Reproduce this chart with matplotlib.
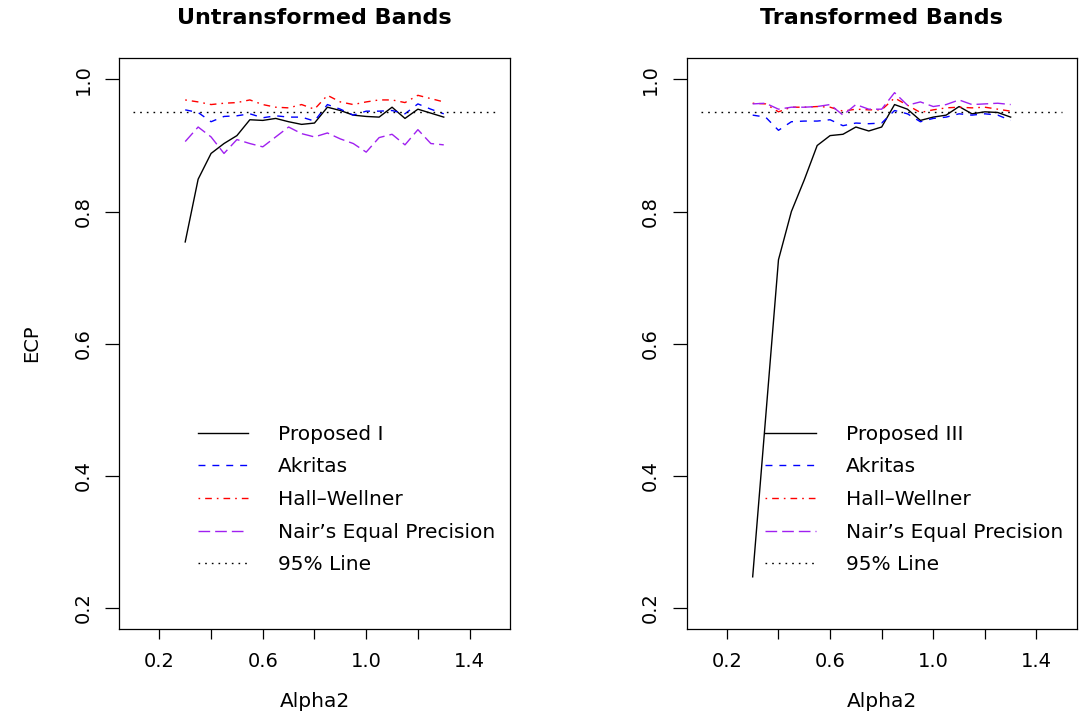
import matplotlib
matplotlib.use('Agg')
import matplotlib.pyplot as plt

alpha2 = [0.30, 0.35, 0.40, 0.45, 0.50, 0.55, 0.60, 0.65, 0.70, 0.75, 0.80,
          0.85, 0.90, 0.95, 1.00, 1.05, 1.10, 1.15, 1.20, 1.25, 1.30]

# untransformed bands
untr_proposed = [0.754, 0.849, 0.888, 0.903, 0.915, 0.939, 0.938, 0.941, 0.936, 0.932, 0.934,
                 0.958, 0.953, 0.946, 0.944, 0.943, 0.958, 0.941, 0.955, 0.949, 0.943]
untr_akritas = [0.954, 0.950, 0.936, 0.944, 0.945, 0.948, 0.942, 0.945, 0.943, 0.943, 0.937,
                0.962, 0.955, 0.946, 0.952, 0.952, 0.953, 0.948, 0.963, 0.955, 0.948]
untr_hall = [0.969, 0.966, 0.962, 0.964, 0.965, 0.969, 0.962, 0.958, 0.957, 0.962, 0.955,
             0.976, 0.966, 0.962, 0.966, 0.969, 0.969, 0.965, 0.976, 0.971, 0.966]
untr_nair = [0.906, 0.928, 0.913, 0.888, 0.909, 0.903, 0.898, 0.913, 0.928, 0.918, 0.913,
             0.919, 0.910, 0.903, 0.890, 0.912, 0.917, 0.901, 0.924, 0.903, 0.901]

# transformed bands
tr_proposed = [0.247, 0.487, 0.727, 0.800, 0.848, 0.900, 0.915, 0.917, 0.928, 0.922, 0.928,
               0.962, 0.955, 0.938, 0.943, 0.946, 0.959, 0.948, 0.951, 0.950, 0.943]
tr_akritas = [0.946, 0.943, 0.923, 0.936, 0.937, 0.937, 0.939, 0.930, 0.934, 0.933, 0.934,
              0.953, 0.948, 0.936, 0.941, 0.943, 0.948, 0.946, 0.948, 0.946, 0.938]
tr_hall = [0.964, 0.963, 0.951, 0.958, 0.958, 0.959, 0.958, 0.952, 0.955, 0.954, 0.954,
           0.972, 0.961, 0.950, 0.954, 0.957, 0.958, 0.957, 0.958, 0.955, 0.952]
tr_nair = [0.963, 0.964, 0.955, 0.958, 0.958, 0.959, 0.962, 0.946, 0.962, 0.955, 0.955,
           0.980, 0.961, 0.966, 0.959, 0.962, 0.969, 0.962, 0.963, 0.964, 0.962]

line95_x = [0.1, 1.5]
line95_y = [0.95, 0.95]

xticks = [0.2, 0.4, 0.6, 0.8, 1.0, 1.2, 1.4]
xticklabels = ['0.2', '', '0.6', '', '1.0', '', '1.4']
yticks = [0.2, 0.4, 0.6, 0.8, 1.0]
yticklabels = ['0.2', '0.4', '0.6', '0.8', '1.0']

plt.rcParams['font.family'] = 'DejaVu Sans'

fig = plt.figure(figsize=(10.82, 7.13), dpi=100)
ax1 = fig.add_axes([0.110, 0.1178, 0.3613, 0.8004])
ax2 = fig.add_axes([0.6346, 0.1178, 0.3605, 0.8004])


def draw(ax, title, first, proposed, akritas, hall, nair):
    ax.plot(alpha2, proposed, color='black', lw=1.0, label=first)
    ax.plot(alpha2, akritas, color='blue', lw=1.0, dashes=(5, 5), label='Akritas')
    ax.plot(alpha2, hall, color='red', lw=1.0, dashes=(1.2, 3.6, 4.8, 3.6), label='Hall–Wellner')
    ax.plot(alpha2, nair, color='#A020F0', lw=1.0, dashes=(8.4, 3.6), label='Nair’s Equal Precision')
    ax.plot(line95_x, line95_y, color='black', lw=1.0, dashes=(1.2, 3.6), label='95% Line')

    ax.set_xlim(0.044, 1.556)
    ax.set_ylim(0.168, 1.032)
    ax.set_xticks(xticks)
    ax.set_xticklabels(xticklabels)
    ax.set_yticks(yticks)
    ax.set_yticklabels(yticklabels, rotation=90, va='center')
    ax.tick_params(axis='x', length=7.2, width=0.9, pad=9, labelsize=14)
    ax.tick_params(axis='y', length=10, width=0.9, pad=9, labelsize=14)
    for s in ax.spines.values():
        s.set_linewidth(0.9)

    ax.set_title(title, fontsize=16, fontweight='bold', pad=25)
    ax.set_xlabel('Alpha2', fontsize=14.5)
    ax.xaxis.set_label_coords(0.5, -0.11)

    ax.legend(loc='upper left', bbox_to_anchor=(0.202, 0.358), frameon=False,
              fontsize=14.5, handlelength=2.49, handletextpad=1.49, labelspacing=0.68,
              borderpad=0, borderaxespad=0)


draw(ax1, 'Untransformed Bands', 'Proposed I', untr_proposed, untr_akritas, untr_hall, untr_nair)
draw(ax2, 'Transformed Bands', 'Proposed III', tr_proposed, tr_akritas, tr_hall, tr_nair)

ax1.set_ylabel('ECP', fontsize=14)
ax1.yaxis.set_label_coords(-0.2, 0.5)

fig.savefig('out.png', dpi=100)
